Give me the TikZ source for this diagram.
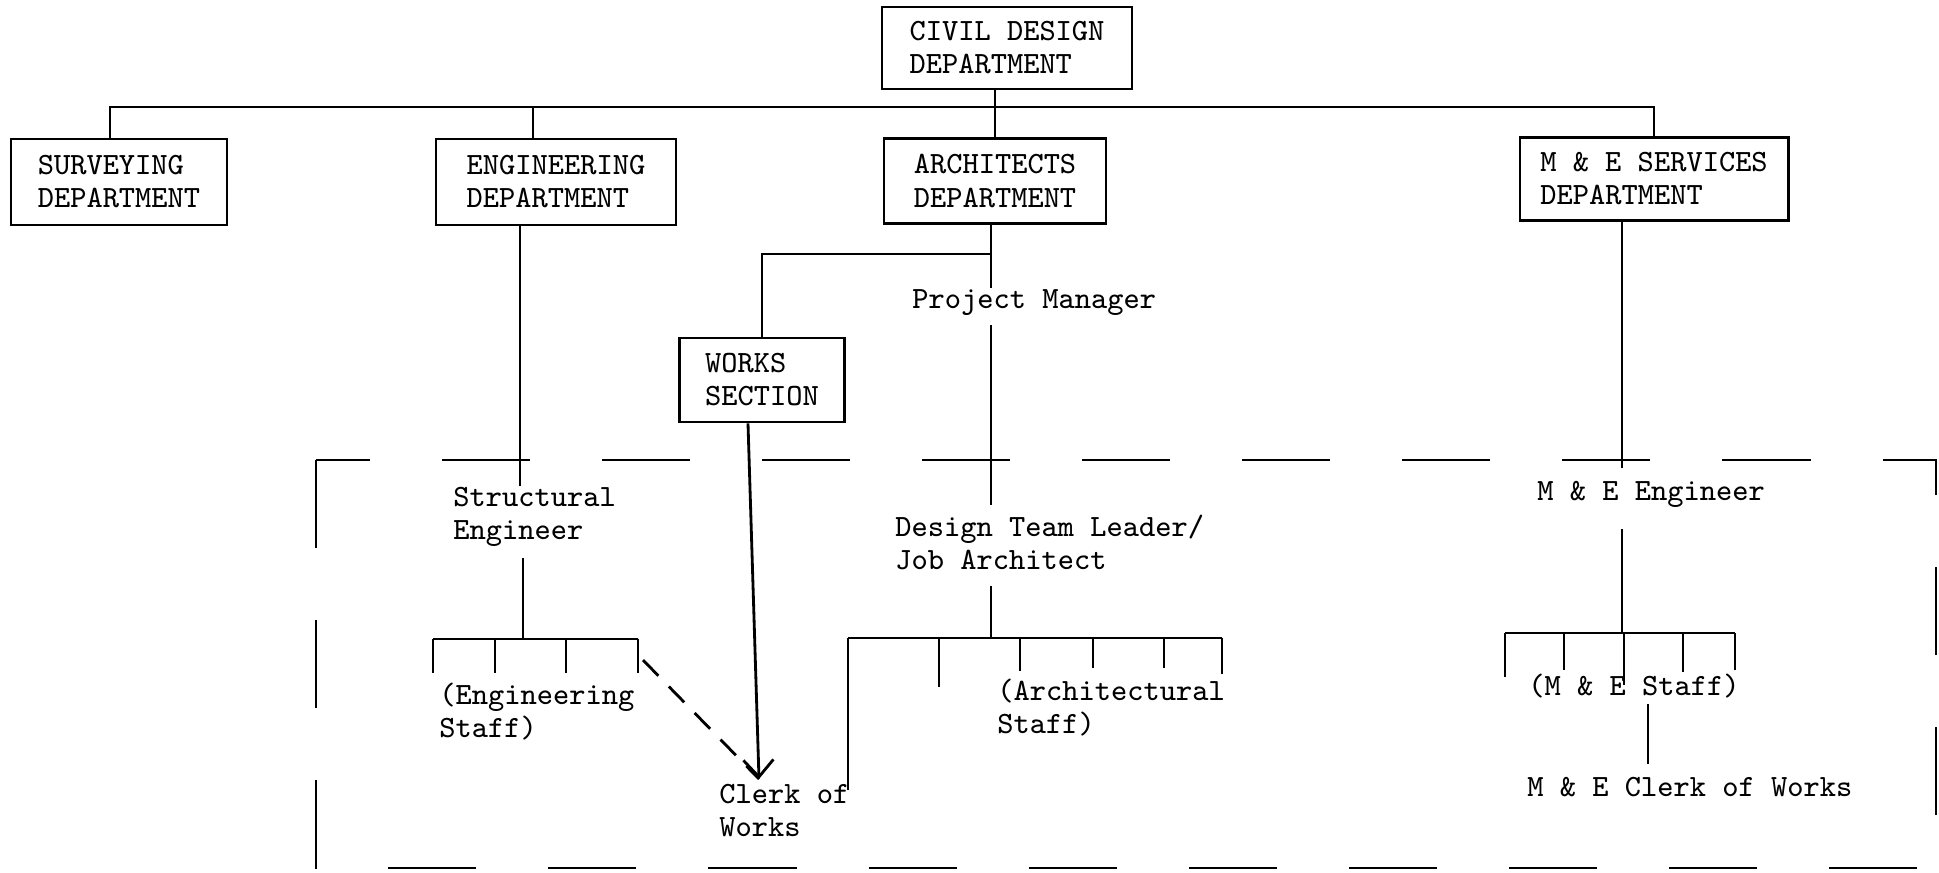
\documentclass[tikz,border=0pt]{standalone}
\usetikzlibrary{arrows.meta}
\begin{document}
\begin{tikzpicture}[x=0.01cm, y=-0.01cm, line width=0.8pt,
    font=\ttfamily\fontsize{8.8}{9.4}\selectfont,
    dept/.style={draw, align=left, inner sep=0pt, minimum height=0.84cm},
    post/.style={align=left, inner sep=0pt, anchor=north west},
    boundary/.style={dash pattern=on 0.88cm off 0.72cm},
    dotlink/.style={dash pattern=on 0.22cm off 0.15cm}]
                \useasboundingbox (0, 0) rectangle (1939, 872);
                \node [dept, minimum width=2.5cm, minimum height=0.82cm] (civil) at (1007, 48) {CIVIL DESIGN\\DEPARTMENT};
                \node [dept, minimum width=2.16cm, minimum height=0.86cm] (survey) at (119, 182) {SURVEYING\\DEPARTMENT};
                \node [dept, minimum width=2.4cm, minimum height=0.86cm] (eng) at (556, 182) {ENGINEERING\\DEPARTMENT};
                \node [dept, minimum width=2.22cm, minimum height=0.85cm] (arch) at (995, 181) {ARCHITECTS\\DEPARTMENT};
                \node [dept, minimum width=2.68cm, minimum height=0.83cm] (mande) at (1654, 179) {M \& E SERVICES\\DEPARTMENT};
                \node [dept, minimum width=1.65cm] (works) at (762, 380) {WORKS\\SECTION};
                \node [post] (pm) at (911, 288) {Project Manager};
                \node [post] (struct) at (452, 486) {Structural\\Engineer};
                \node [post] (dtl) at (894, 514) {Design Team Leader/\\Job Architect};
                \node [post] (mee) at (1536, 480) {M \& E Engineer};
                \node [post] (estaff) at (438, 682) {(Engineering\\Staff)};
                \node [post] (astaff) at (996, 678) {(Architectural\\Staff)};
                \node [post] (mstaff) at (1527, 673) {(M \& E Staff)};
                \node [post] (clerk) at (718, 783) {Clerk of\\Works};
                \node [post] (mclerk) at (1526, 776) {M \& E Clerk of Works};
                \coordinate (bus) at (1007, 107);
                \coordinate (split) at (991, 254);
                \coordinate (tip) at (759, 779);
                \coordinate (engaxis) at (520, 0);
                \coordinate (estaffaxis) at (523, 0);
                \coordinate (archaxis) at (991, 0);
                \coordinate (meaxis) at (1622, 0);
                \coordinate (mcaxis) at (1648, 0);
                \coordinate (ebus) at (433, 639);
                \coordinate (abus) at (848, 638);
                \coordinate (mbus) at (1505, 633);
                \draw (civil.south -| arch.north) -- (arch.north);
                \draw ([xshift=-0.09cm]survey.north) |- (bus -| mande.north) -- (mande.north);
                \draw ([xshift=-0.23cm]eng.north) -- ++(0, -31);
                \draw (engaxis |- eng.south) -- (engaxis |- struct.north);
                \draw (estaffaxis |- struct.south) ++(0, 10) -- (estaffaxis |- ebus);
                \draw (archaxis |- arch.south) -- (archaxis |- pm.north);
                \draw (split) -| (works.north);
                \draw (archaxis |- pm.south) ++(0, 8) -- ++(0, 180);
                \draw (archaxis |- dtl.south) ++(0, 14) -- (archaxis |- abus);
                \draw (meaxis |- mee.north) ++(0, -12) -- (meaxis |- mande.south);
                \draw (meaxis |- mee.south) ++(0, 20) -- (meaxis |- mbus);
                \draw (mcaxis |- mstaff.south) ++(0, 4) -- ++(0, 60);
                \draw (ebus) -- ++(205, 0);
                \foreach \x in {433, 495, 566, 638} \draw (\x, 639) -- (\x, 673);
                \draw (abus) -- ++(374, 0);
                \foreach \x/\e in {848/790, 939/687, 1020/671, 1093/668, 1164/668, 1222/674} \draw (\x, 638) -- (\x, \e);
                \draw (mbus) -- ++(230, 0);
                \foreach \x/\e in {1505/677, 1564/670, 1624/685, 1683/672, 1735/670} \draw (\x, 633) -- (\x, \e);
                \draw [-{Straight Barb[length=0.17cm, width=0.3cm]}] ([xshift=-0.14cm]works.south) -- (tip);
                \draw [dotlink] (643, 660) -- (tip);
                \draw [boundary] (316, 460) rectangle (1936, 868);
            \end{tikzpicture}
\end{document}
